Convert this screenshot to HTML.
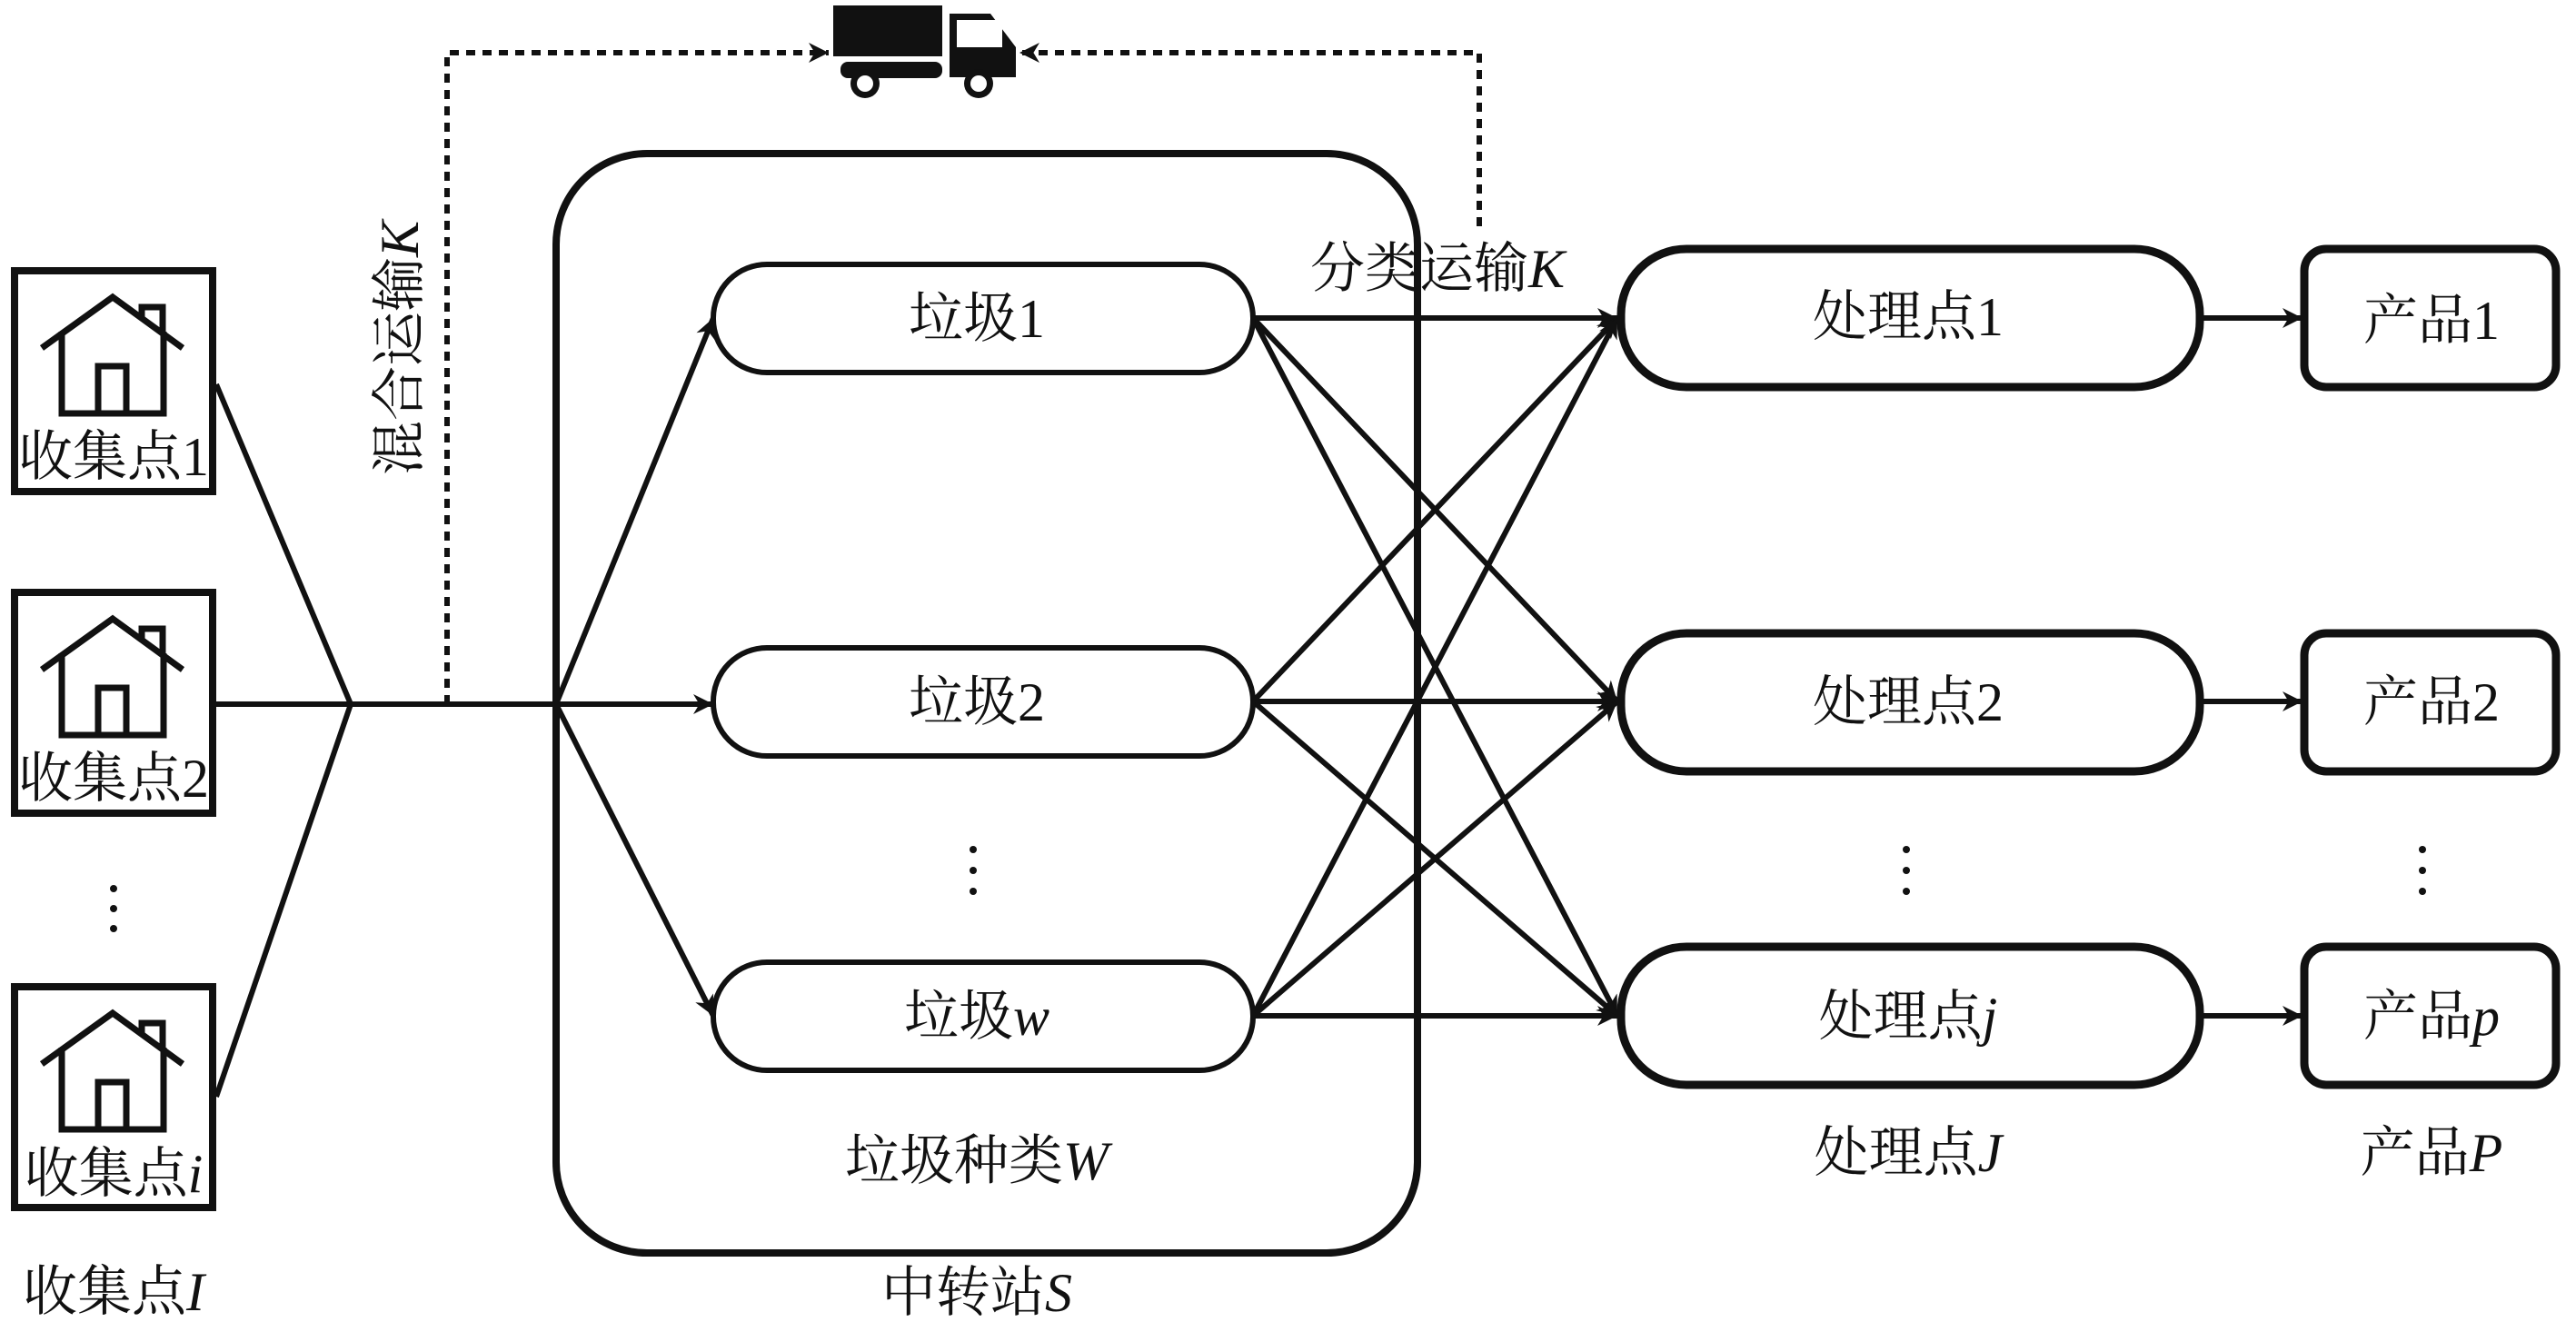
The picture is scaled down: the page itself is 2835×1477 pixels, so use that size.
<!DOCTYPE html>
<html><head><meta charset="utf-8"><style>
html,body{margin:0;padding:0;background:#fff;}
svg text{font-family:"Liberation Serif","Noto Serif CJK SC","Noto Sans CJK SC",serif;fill:#111;}
</style></head><body>
<svg width="2835" height="1472" viewBox="0 0 2835 1472" xmlns="http://www.w3.org/2000/svg">
<defs>
<marker id="ar" viewBox="0 0 10 10" refX="10" refY="5" markerWidth="26" markerHeight="22" markerUnits="userSpaceOnUse" orient="auto"><path d="M0,0 L10,5 L0,10 L3,5 z" fill="#111"/></marker>
</defs>
<g fill="none" stroke="#111">
<rect x="16" y="298" width="218" height="243" stroke-width="8"/>
<rect x="16" y="652" width="218" height="243" stroke-width="8"/>
<rect x="16" y="1086" width="218" height="243" stroke-width="8"/>
</g>
<g id="house" fill="none" stroke="#111" stroke-width="7">
<path d="M46,383 L124,327 L201,383"/>
<path d="M68,365 L68,455 L180,455 L180,365"/>
<path d="M108,455 L108,403 L139,403 L139,455"/>
<path d="M156,352 L156,338 L179,338 L179,368"/>
</g>
<use href="#house" y="354"/>
<use href="#house" y="788"/>
<g font-size="60" text-anchor="middle">
<text x="125" y="523">收集点1</text>
<text x="125" y="877">收集点2</text>
<text x="125" y="1312">收集点<tspan font-style="italic">i</tspan></text>
<text x="125" y="1442">收集点<tspan font-style="italic">I</tspan></text>
</g>
<g fill="#111"><circle cx="125" cy="978" r="4"/><circle cx="125" cy="1000" r="4"/><circle cx="125" cy="1022" r="4"/></g>
<g stroke="#111" stroke-width="6" fill="none">
<path d="M238,423 L386,775 L238,1207"/>
<path d="M238,775 L612,775"/>
<path d="M612,775 L785,350" marker-end="url(#ar)"/>
<path d="M612,775 L785,775" marker-end="url(#ar)"/>
<path d="M612,775 L785,1118" marker-end="url(#ar)"/>
</g>
<g stroke="#111" stroke-width="6" fill="none" stroke-dasharray="10,8">
<path d="M492,775 L492,58 L912,58" marker-end="url(#ar)"/>
<path d="M1628,249 L1628,58 L1122,58" marker-end="url(#ar)"/>
</g>
<g fill="#111">
<rect x="917" y="6" width="120" height="56"/>
<rect x="925" y="68" width="112" height="18" rx="8"/>
<path d="M1045,15 L1090,15 L1118,52 L1118,85 L1045,85 z"/>
<rect x="1053" y="22" width="50" height="30" fill="#fff"/>
<circle cx="952" cy="92" r="16"/><circle cx="952" cy="92" r="9" fill="#fff"/>
<circle cx="1077" cy="92" r="16"/><circle cx="1077" cy="92" r="9" fill="#fff"/>
</g>
<rect x="612" y="169" width="948" height="1210" rx="100" fill="none" stroke="#111" stroke-width="8"/>
<g stroke="#111" stroke-width="6" fill="none">
<path d="M1379,350 L1780,350" marker-end="url(#ar)"/>
<path d="M1379,350 L1780,772" marker-end="url(#ar)"/>
<path d="M1379,350 L1780,1118" marker-end="url(#ar)"/>
<path d="M1379,772 L1780,350" marker-end="url(#ar)"/>
<path d="M1379,772 L1780,772" marker-end="url(#ar)"/>
<path d="M1379,772 L1780,1118" marker-end="url(#ar)"/>
<path d="M1379,1118 L1780,350" marker-end="url(#ar)"/>
<path d="M1379,1118 L1780,772" marker-end="url(#ar)"/>
<path d="M1379,1118 L1780,1118" marker-end="url(#ar)"/>
<path d="M2421,350 L2534,350" marker-end="url(#ar)"/>
<path d="M2421,772 L2534,772" marker-end="url(#ar)"/>
<path d="M2421,1118 L2534,1118" marker-end="url(#ar)"/>
</g>
<g fill="#fff" stroke="#111" stroke-width="6">
<rect x="785" y="291" width="594" height="119" rx="59"/>
<rect x="785" y="713" width="594" height="119" rx="59"/>
<rect x="785" y="1059" width="594" height="119" rx="59"/>
</g>
<g fill="#fff" stroke="#111" stroke-width="9">
<rect x="1784" y="274" width="637" height="152" rx="72"/>
<rect x="1784" y="697" width="637" height="152" rx="72"/>
<rect x="1784" y="1042" width="637" height="152" rx="72"/>
<rect x="2536" y="274" width="277" height="152" rx="24"/>
<rect x="2536" y="697" width="277" height="152" rx="24"/>
<rect x="2536" y="1042" width="277" height="152" rx="24"/>
</g>
<g font-size="60" text-anchor="middle">
<text x="1075" y="371">垃圾1</text>
<text x="1075" y="793">垃圾2</text>
<text x="1075" y="1139">垃圾<tspan font-style="italic">w</tspan></text>
<text x="1075" y="1298">垃圾种类<tspan font-style="italic">W</tspan></text>
<text x="1075" y="1443">中转站<tspan font-style="italic">S</tspan></text>
<text x="2100" y="369">处理点1</text>
<text x="2100" y="793">处理点2</text>
<text x="2100" y="1139">处理点<tspan font-style="italic">j</tspan></text>
<text x="2100" y="1289">处理点<tspan font-style="italic">J</tspan></text>
<text x="2676" y="373">产品1</text>
<text x="2676" y="793">产品2</text>
<text x="2676" y="1139">产品<tspan font-style="italic">p</tspan></text>
<text x="2676" y="1289">产品<tspan font-style="italic">P</tspan></text>
<text x="1582" y="316">分类运输<tspan font-style="italic">K</tspan></text>
<text x="0" y="0" transform="translate(460,383) rotate(-90)">混合运输<tspan font-style="italic">K</tspan></text>
</g>
<g fill="#111">
<circle cx="1071" cy="935" r="4"/><circle cx="1071" cy="958" r="4"/><circle cx="1071" cy="981" r="4"/>
<circle cx="2098" cy="935" r="4"/><circle cx="2098" cy="958" r="4"/><circle cx="2098" cy="981" r="4"/>
<circle cx="2666" cy="935" r="4"/><circle cx="2666" cy="958" r="4"/><circle cx="2666" cy="981" r="4"/>
</g>
</svg>
</body></html>
